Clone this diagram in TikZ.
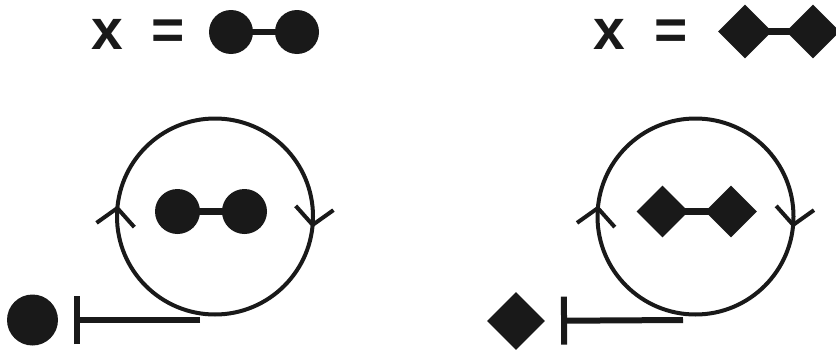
\documentclass[tikz,border=0pt]{standalone}
\usepackage{fontspec}
\setmainfont{Liberation Sans}
\usetikzlibrary{arrows.meta,positioning,shapes.geometric,decorations.markings}

\begin{document}
\begin{tikzpicture}[
  x=1pt, y=-1pt,
  bead/.style={circle, fill=black!90, inner sep=0pt, minimum size=#1},
  gem/.style={diamond, fill=black!90, inner sep=0pt, minimum width=#1, minimum height=#1},
  bond/.style={line width=6.5pt, draw=black!90},
  ring/.style={line width=4pt, draw=black!90,
    decoration={markings,
      mark=at position 0.018 with {\arrow{Straight Barb[length=17pt,width=38pt]}},
      mark=at position 0.518 with {\arrow{Straight Barb[length=17pt,width=38pt]}}},
    postaction=decorate},
  inhib/.style={line width=6pt, draw=black!90, -{Bar[width=48pt]}, shorten >=16pt},
  lbl/.style={font=\fontsize{57}{57}\selectfont\bfseries, text=black!90,
    inner sep=0pt, anchor=base}
]
\useasboundingbox (0,0) rectangle (836,351);

% left: x = dimer of beads
\node[lbl] (xa) at (107.5,49.5) {x};
\node[lbl] (eqa) at (168.5,49.5) {=};
\node[bead=44] (ta1) at (231,32) {};
\node[bead=44] (ta2) at (297,32) {};
\draw[bond] (ta1.center) -- (ta2.center);

\draw[ring] (215,216.5) circle (98);
\node[bead=45] (da1) at (177.5,211.5) {};
\node[bead=45] (da2) at (244.5,211.5) {};
\draw[bond] (da1.center) -- (da2.center);

\node[bead=51] (ma) at (32.5,320) {};
\coordinate (ca) at (200,320);
\draw[inhib] (ca) -- (ma);

% right: x = dimer of diamonds
\node[lbl] (xb) at (609,49.5) {x};
\node[lbl] (eqb) at (671.5,49.5) {=};
\node[gem=54] (tb1) at (745,31.5) {};
\node[gem=54] (tb2) at (813,31.5) {};
\draw[bond] (tb1.center) -- (tb2.center);

\draw[ring] (695.5,216.5) circle (98);
\node[gem=52] (db1) at (662.5,211.5) {};
\node[gem=52] (db2) at (731,211.5) {};
\draw[bond] (db1.center) -- (db2.center);

\node[gem=58] (mb) at (516,321) {};
\coordinate (cb) at (683,320);
\draw[inhib] (cb) -- (mb);
\end{tikzpicture}
\end{document}
